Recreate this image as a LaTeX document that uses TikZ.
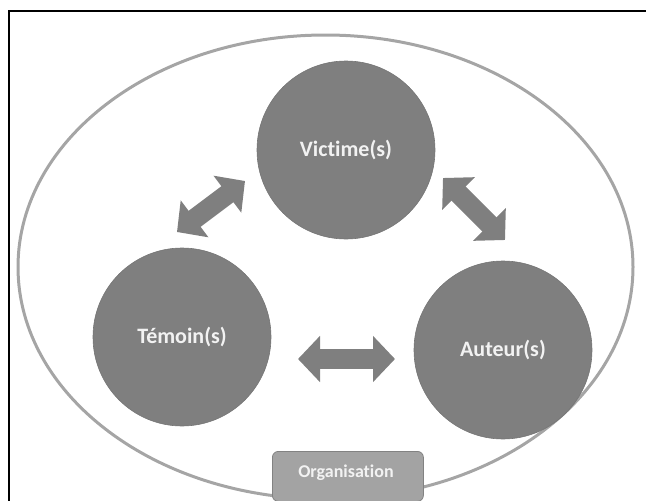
\documentclass[tikz,border=0pt]{standalone}
\usepackage{fontspec}
\setmainfont{Carlito}[Ligatures=NoCommon]
\usetikzlibrary{arrows.meta, positioning}
\definecolor{grisRond}{RGB}{127,127,127}
\definecolor{grisTrait}{RGB}{165,165,165}
\definecolor{grisOrga}{RGB}{163,163,163}
\definecolor{blancTexte}{RGB}{242,242,242}
\tikzset{
  rel/rond/.style={circle, fill=grisRond, draw=grisRond!92!black,
    minimum size=178pt, inner sep=0pt, line width=0.6pt,
    font=\fontsize{22}{26}\selectfont\bfseries, text=blancTexte},
  rel/orga/.style={rectangle, rounded corners=6pt, fill=grisOrga,
    draw=grisOrga!80!black, line width=0.8pt,
    minimum width=151pt, minimum height=50pt, anchor=north west},
  rel/orgtxt/.style={font=\fontsize{18}{20}\selectfont\bfseries,
    text=blancTexte},
  rel/fl/.style={line width=20pt, draw=grisRond,
    {Triangle[length=22pt,width=45pt]}-{Triangle[length=22pt,width=45pt]}}
}
\begin{document}
\begin{tikzpicture}[x=1pt, y=-1pt]
  \useasboundingbox (0,0) rectangle (646,501);
  \draw[line width=2.8pt, black] (9,501) -- (9,11) -- (646,11);

  % organisation
  \draw[grisTrait, line width=3pt] (325.5,267) ellipse [x radius=307.5, y radius=232];

  \node[rel/rond] (vic) at (346,150) {Victime(s)};
  \node[rel/rond] (tem) at (182,337) {Témoin(s)};
  \node[rel/rond] (aut) at (503,350) {Auteur(s)};

  \node[rel/orga] (org) at (272,451) {};
  \node[rel/orgtxt] (orgtxt) at (346,473) {Organisation};

  % fleches
  \coordinate (tv1) at (177,232);
  \coordinate (tv2) at (245,181);
  \coordinate (va1) at (443,178);
  \coordinate (va2) at (505,240);
  \coordinate (ta1) at (298,359);
  \coordinate (ta2) at (395,359);
  \draw[rel/fl] (tv1) -- (tv2);
  \draw[rel/fl] (va1) -- (va2);
  \draw[rel/fl] (ta1) -- (ta2);
\end{tikzpicture}
\end{document}
